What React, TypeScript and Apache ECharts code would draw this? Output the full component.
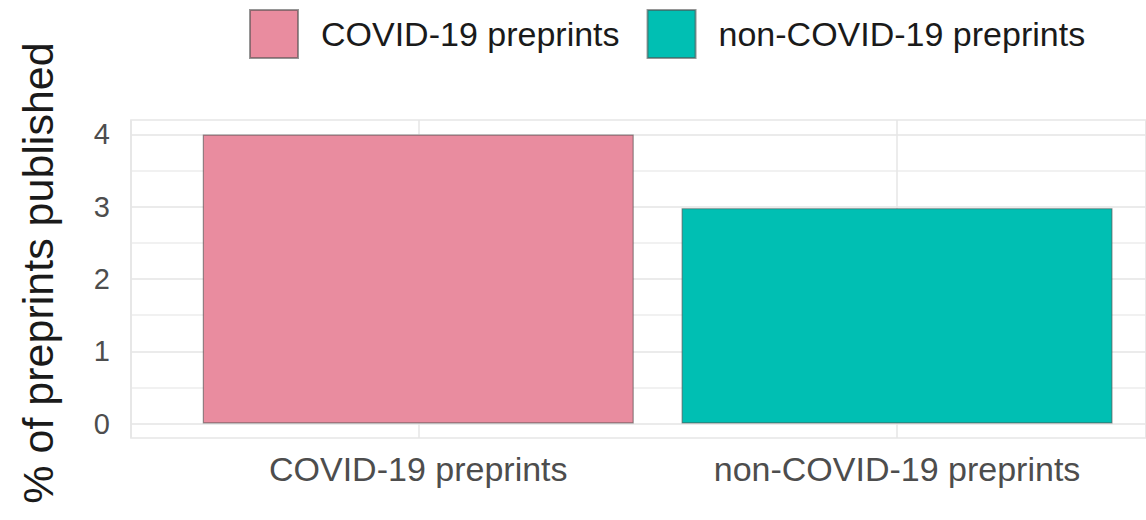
import React, { useEffect, useRef } from "react";
import * as echarts from "echarts";

const categories = ["COVID-19 preprints", "non-COVID-19 preprints"];
const values = [4.0, 2.98];
const barColors = ["#E98C9F", "#00BFB3"];
const yTitle = "% of preprints published";

const FONT = "'Liberation Sans', Arial, Helvetica, sans-serif";

export default function App() {
  const ref = useRef<HTMLDivElement>(null);

  useEffect(() => {
    if (!ref.current) return;
    const chart = echarts.init(ref.current, undefined, { renderer: "svg" });

    const series = categories.map((name, i) => ({
      type: "bar",
      name,
      data: [[i + 1, values[i]]],
      barWidth: 431,
      barGap: "-100%",
      itemStyle: {
        color: barColors[i],
        borderColor: "rgba(80,80,80,0.6)",
        borderWidth: 1.2,
      },
      emphasis: { disabled: true },
    }));

    chart.setOption({
      animation: false,
      backgroundColor: "#ffffff",
      textStyle: { fontFamily: FONT },
      legend: {
        left: 244,
        top: 4,
        itemWidth: 48,
        itemHeight: 48,
        itemGap: 27,
        icon: "rect",
        data: categories,
        textStyle: {
          fontFamily: FONT,
          fontSize: 34,
          color: "#1a1a1a",
          padding: [0, 0, 0, 18],
        },
      },
      grid: {
        left: 131,
        right: 0,
        top: 120,
        bottom: 82,
        show: true,
        borderColor: "#e2e2e2",
        borderWidth: 1.5,
        backgroundColor: "transparent",
      },
      xAxis: {
        type: "value",
        min: 0.4,
        max: 2.52,
        splitNumber: 2,
        axisLine: { show: false },
        axisTick: { show: false },
        splitLine: { show: true, lineStyle: { color: "#e6e6e6", width: 1.5 } },
        axisLabel: {
          showMinLabel: false,
          showMaxLabel: false,
          margin: 14,
          fontFamily: FONT,
          fontSize: 34,
          color: "#4d4d4d",
          formatter: (v: number) =>
            Number.isInteger(v) && categories[v - 1] ? categories[v - 1] : "",
        },
      },
      yAxis: {
        type: "value",
        min: -0.2,
        max: 4.2,
        splitNumber: 9,
        name: yTitle,
        nameLocation: "middle",
        nameGap: 72,
        nameTextStyle: {
          fontFamily: FONT,
          fontSize: 43,
          color: "#1a1a1a",
          padding: [0, 0, 0, 12],
        },
        axisLine: { show: false },
        axisTick: { show: false },
        splitLine: {
          show: true,
          lineStyle: { color: ["#ececec", "#e4e4e4"], width: 1.5 },
        },
        axisLabel: {
          showMinLabel: false,
          showMaxLabel: false,
          margin: 21,
          fontFamily: FONT,
          fontSize: 29,
          color: "#4d4d4d",
          formatter: (v: number) =>
            Math.abs(v - Math.round(v)) < 1e-9 ? String(Math.abs(Math.round(v))) : "",
        },
      },
      series,
    });

    return () => chart.dispose();
  }, []);

  return (
    <div
      ref={ref}
      style={{ position: "absolute", left: 0, top: 0, width: 1146, height: 520 }}
    />
  );
}
